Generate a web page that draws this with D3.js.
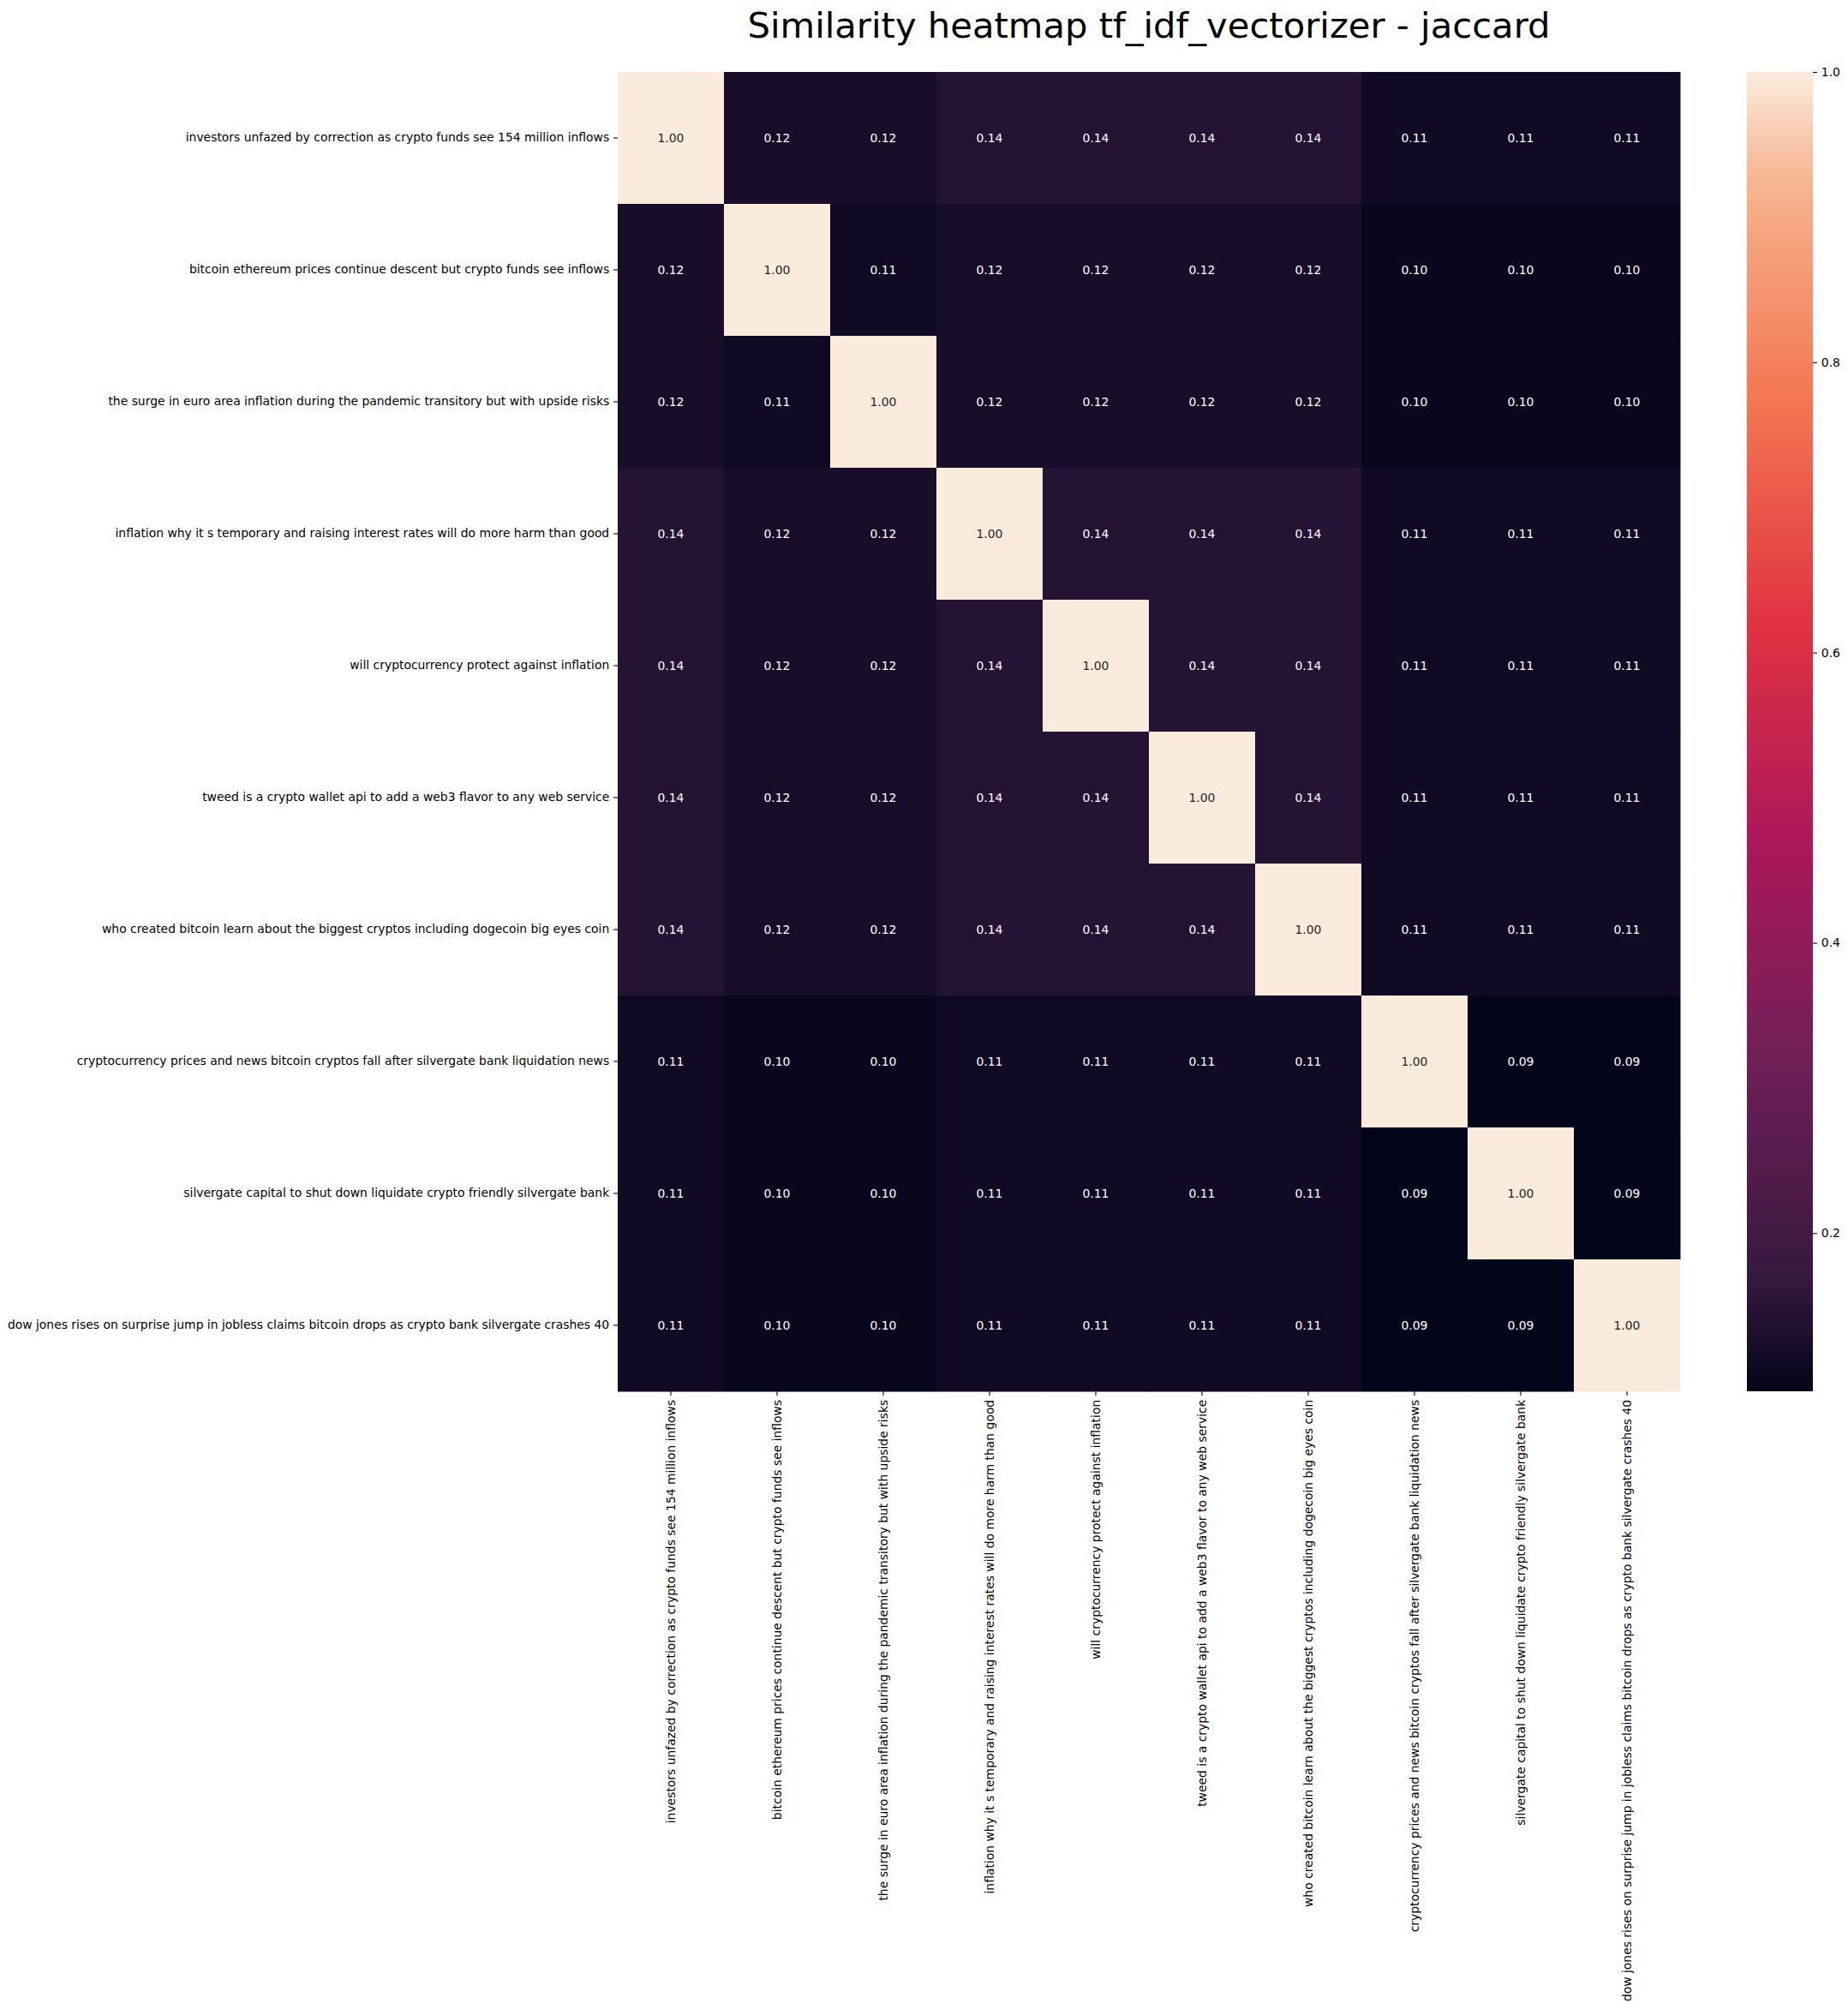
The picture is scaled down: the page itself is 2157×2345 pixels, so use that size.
<!DOCTYPE html>
<html>
<head>
<meta charset="utf-8">
<script src="https://cdn.jsdelivr.net/npm/d3@7"></script>
<style>
  body { margin: 0; background: #ffffff; }
  text { font-family: "DejaVu Sans", sans-serif; }
</style>
</head>
<body>
<svg></svg>
<script>
// DATA
var titles = [
    'investors unfazed by correction as crypto funds see 154 million inflows',
    'bitcoin ethereum prices continue descent but crypto funds see inflows',
    'the surge in euro area inflation during the pandemic transitory but with upside risks',
    'inflation why it s temporary and raising interest rates will do more harm than good',
    'will cryptocurrency protect against inflation',
    'tweed is a crypto wallet api to add a web3 flavor to any web service',
    'who created bitcoin learn about the biggest cryptos including dogecoin big eyes coin',
    'cryptocurrency prices and news bitcoin cryptos fall after silvergate bank liquidation news',
    'silvergate capital to shut down liquidate crypto friendly silvergate bank',
    'dow jones rises on surprise jump in jobless claims bitcoin drops as crypto bank silvergate crashes 40'
];

// similarity matrix, one row per title
var row0 = [1.000, 0.124, 0.124, 0.143, 0.143, 0.143, 0.143, 0.111, 0.111, 0.111];
var row1 = [0.124, 1.000, 0.111, 0.124, 0.124, 0.124, 0.124, 0.100, 0.100, 0.100];
var row2 = [0.124, 0.111, 1.000, 0.124, 0.124, 0.124, 0.124, 0.100, 0.100, 0.100];
var row3 = [0.143, 0.124, 0.124, 1.000, 0.143, 0.143, 0.143, 0.111, 0.111, 0.111];
var row4 = [0.143, 0.124, 0.124, 0.143, 1.000, 0.143, 0.143, 0.111, 0.111, 0.111];
var row5 = [0.143, 0.124, 0.124, 0.143, 0.143, 1.000, 0.143, 0.111, 0.111, 0.111];
var row6 = [0.143, 0.124, 0.124, 0.143, 0.143, 0.143, 1.000, 0.111, 0.111, 0.111];
var row7 = [0.111, 0.100, 0.100, 0.111, 0.111, 0.111, 0.111, 1.000, 0.091, 0.091];
var row8 = [0.111, 0.100, 0.100, 0.111, 0.111, 0.111, 0.111, 0.091, 1.000, 0.091];
var row9 = [0.111, 0.100, 0.100, 0.111, 0.111, 0.111, 0.111, 0.091, 0.091, 1.000];
var matrix = [row0, row1, row2, row3, row4, row5, row6, row7, row8, row9];

var colorbarTicks = [0.2, 0.4, 0.6, 0.8, 1.0];

// rocket colormap stops
var rocketStops = [0, 0.083, 0.25, 0.417, 0.583, 0.75, 0.917, 1];
var rocketColors = ['#03051a', '#35193e', '#701f57', '#ad1759', '#e13342', '#f37651', '#f6b48f', '#faebdd'];

//SVG SETUP
var W = 2157, H = 2345;
var axLeft = 721, axTop = 84, axRight = 1961, axBottom = 1624;
var cbLeft = 2039, cbRight = 2116;
var tick = 4.9, pad = 4.9, fs = 13.9;

var svg = d3.select('svg')
    .attr('width', W)
    .attr('height', H);

svg.append('rect')
    .attr('width', W)
    .attr('height', H)
    .attr('fill', '#ffffff');

//SCALES
var cells = [];
matrix.forEach(function(r, i) {
    r.forEach(function(v, j) {
        cells.push({ row: titles[i], col: titles[j], value: v });
    });
});

var vmin = d3.min(cells, function(d) { return d.value; });
var vmax = d3.max(cells, function(d) { return d.value; });

var xScale = d3.scaleBand().domain(titles).range([axLeft, axRight]);
var yScale = d3.scaleBand().domain(titles).range([axTop, axBottom]);

var rocket = d3.scaleLinear()
    .domain(rocketStops)
    .range(rocketColors)
    .interpolate(d3.interpolateRgb);

var colorScale = function(v) {
    return rocket((v - vmin) / (vmax - vmin));
};

//CELLS
svg.append('g').selectAll('rect')
    .data(cells)
    .enter()
    .append('rect')
    .attr('x', function(d) { return xScale(d.col); })
    .attr('y', function(d) { return yScale(d.row); })
    .attr('width', xScale.bandwidth() + 0.5)
    .attr('height', yScale.bandwidth() + 0.5)
    .attr('fill', function(d) { return colorScale(d.value); });

svg.append('g').selectAll('text')
    .data(cells)
    .enter()
    .append('text')
    .attr('x', function(d) { return xScale(d.col) + xScale.bandwidth() / 2; })
    .attr('y', function(d) { return yScale(d.row) + yScale.bandwidth() / 2; })
    .attr('dy', '0.35em')
    .attr('text-anchor', 'middle')
    .attr('font-size', fs)
    .attr('fill', function(d) {
        var c = d3.rgb(colorScale(d.value));
        var lum = (0.2126 * c.r + 0.7152 * c.g + 0.0722 * c.b) / 255;
        return lum > 0.408 ? '#262626' : '#ffffff';
    })
    .text(function(d) { return d3.format('.2f')(d.value); });

//AXES
var yAxis = svg.append('g')
    .attr('transform', 'translate(' + axLeft + ',0)')
    .call(d3.axisLeft(yScale).tickSize(tick).tickPadding(pad));

var xAxis = svg.append('g')
    .attr('transform', 'translate(0,' + axBottom + ')')
    .call(d3.axisBottom(xScale).tickSize(tick).tickPadding(pad));

xAxis.selectAll('text')
    .attr('transform', 'rotate(-90)')
    .attr('text-anchor', 'end')
    .attr('x', -(tick + pad))
    .attr('y', 0)
    .attr('dy', '0.35em');

[xAxis, yAxis].forEach(function(a) {
    a.select('.domain').remove();
    a.selectAll('text')
        .attr('font-size', fs)
        .attr('font-family', '"DejaVu Sans", sans-serif')
        .attr('fill', '#000000');
    a.selectAll('line').attr('stroke', '#000000').attr('stroke-width', 1.1);
});

//COLORBAR
var defs = svg.append('defs');
var grad = defs.append('linearGradient')
    .attr('id', 'cbar')
    .attr('x1', 0).attr('y1', 1)
    .attr('x2', 0).attr('y2', 0);

grad.selectAll('stop')
    .data(d3.range(0, 1.0001, 0.02))
    .enter()
    .append('stop')
    .attr('offset', function(d) { return d; })
    .attr('stop-color', function(d) { return rocket(d); });

svg.append('rect')
    .attr('x', cbLeft)
    .attr('y', axTop)
    .attr('width', cbRight - cbLeft)
    .attr('height', axBottom - axTop)
    .attr('fill', 'url(#cbar)');

var cbScale = d3.scaleLinear().domain([vmin, vmax]).range([axBottom, axTop]);

var cbAxis = svg.append('g')
    .attr('transform', 'translate(' + cbRight + ',0)')
    .call(d3.axisRight(cbScale).tickValues(colorbarTicks).tickFormat(d3.format('.1f'))
        .tickSize(tick).tickPadding(pad));

cbAxis.select('.domain').remove();
cbAxis.selectAll('text')
    .attr('font-size', fs)
    .attr('font-family', '"DejaVu Sans", sans-serif')
    .attr('fill', '#000000');
cbAxis.selectAll('line').attr('stroke', '#000000').attr('stroke-width', 1.1);

//TITLE
svg.append('text')
    .attr('x', (axLeft + axRight) / 2)
    .attr('y', 44)
    .attr('text-anchor', 'middle')
    .attr('font-size', 41.7)
    .attr('fill', '#000000')
    .text('Similarity heatmap tf_idf_vectorizer - jaccard');
</script>
</body>
</html>
